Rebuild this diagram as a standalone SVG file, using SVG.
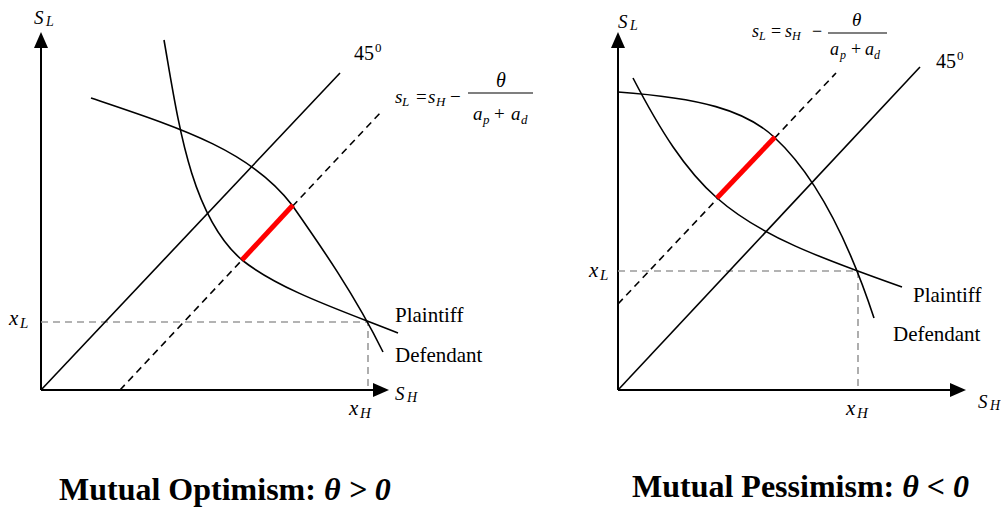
<svg xmlns="http://www.w3.org/2000/svg" width="1001" height="508" viewBox="0 0 1001 508">
<style>
.ax{stroke:#000;stroke-width:2;fill:none}
.ah{fill:#000;stroke:none}
.cv{stroke:#000;stroke-width:1.6;fill:none}
.dl{stroke:#000;stroke-width:1.6;fill:none;stroke-dasharray:7,5}
.gd{stroke:#9a9a9a;stroke-width:1.6;fill:none;stroke-dasharray:7,5}
.rd{stroke:#ff0000;stroke-width:5;fill:none}
text{font-family:"Liberation Serif","Times New Roman",serif;fill:#000}
.it{font-style:italic}
.lb{font-size:21px}
.ttl{font-size:32px;font-weight:bold}
</style>
<rect width="1001" height="508" fill="#fff"/>

<g id="left-panel">
  <g id="left-axes">
    <line class="ax" x1="41" y1="390" x2="41" y2="46"/>
    <polygon class="ah" points="41,32 34,48 48,48"/>
    <line class="ax" x1="41" y1="390" x2="375" y2="390"/>
    <polygon class="ah" points="389,390 373,383 373,397"/>
    <text class="it" x="34" y="24" font-size="19">S</text>
    <text class="it" x="46" y="26" font-size="14">L</text>
    <text class="it" x="395" y="400" font-size="19">S</text>
    <text class="it" x="407" y="402" font-size="14">H</text>
  </g>
  <g id="left-guides">
    <polyline class="gd" points="41,322 368,322 368,390"/>
    <text class="it" x="9" y="325" font-size="21">x</text>
    <text class="it" x="20" y="328" font-size="15">L</text>
    <text class="it" x="349" y="415" font-size="21">x</text>
    <text class="it" x="360" y="418" font-size="15">H</text>
  </g>
  <g id="left-45">
    <line class="cv" x1="41" y1="390" x2="340" y2="73"/>
    <text x="354" y="60" font-size="20">45</text>
    <text x="375" y="52" font-size="13">0</text>
  </g>
  <g id="left-settlement-line">
    <line class="dl" x1="120" y1="390" x2="381" y2="112"/>
    <g class="it">
      <text x="395" y="103" font-size="19">s</text>
      <text x="402" y="106" font-size="13">L</text>
      <text x="428" y="103" font-size="19">s</text>
      <text x="436" y="106" font-size="13">H</text>
      <text x="473" y="120" font-size="19">a</text>
      <text x="483" y="124" font-size="13">p</text>
      <text x="511" y="120" font-size="19">a</text>
      <text x="521" y="124" font-size="13">d</text>
      <text x="496" y="87" font-size="20">θ</text>
    </g>
    <text x="416" y="103" font-size="19">=</text>
    <text x="450" y="103" font-size="19">−</text>
    <text x="494" y="120" font-size="19">+</text>
    <line x1="468" y1="93" x2="533" y2="93" stroke="#000" stroke-width="1.2"/>
  </g>
  <g id="left-plaintiff">
    <path class="cv" d="M164,40 C178,120 190,215 242,260 C280,290 340,310 398,333"/>
    <text class="lb" x="395" y="322">Plaintiff</text>
  </g>
  <g id="left-defendant">
    <path class="cv" d="M91,98 C180,128 250,150 292,205 C320,245 355,295 383,352"/>
    <text class="lb" x="395" y="362">Defendant</text>
  </g>
  <g id="left-range">
    <line class="rd" x1="242" y1="260" x2="293" y2="205"/>
  </g>
  <g id="left-title">
    <text class="ttl" x="59" y="500">Mutual Optimism: <tspan font-style="italic">θ &gt; 0</tspan></text>
  </g>
</g>

<g id="right-panel">
  <g id="right-axes">
    <line class="ax" x1="618" y1="390" x2="618" y2="46"/>
    <polygon class="ah" points="618,32 611,48 625,48"/>
    <line class="ax" x1="618" y1="390" x2="952" y2="390"/>
    <polygon class="ah" points="966,390 950,383 950,397"/>
    <text class="it" x="618" y="28" font-size="19">S</text>
    <text class="it" x="630" y="30" font-size="14">L</text>
    <text class="it" x="978" y="408" font-size="19">S</text>
    <text class="it" x="990" y="410" font-size="14">H</text>
  </g>
  <g id="right-guides">
    <polyline class="gd" points="618,271 858,271 858,390"/>
    <text class="it" x="589" y="277" font-size="21">x</text>
    <text class="it" x="600" y="280" font-size="15">L</text>
    <text class="it" x="846" y="415" font-size="21">x</text>
    <text class="it" x="857" y="418" font-size="15">H</text>
  </g>
  <g id="right-45">
    <line class="cv" x1="618" y1="390" x2="920" y2="67"/>
    <text x="936" y="68" font-size="20">45</text>
    <text x="957" y="60" font-size="13">0</text>
  </g>
  <g id="right-settlement-line">
    <line class="dl" x1="618" y1="304" x2="836" y2="73"/>
    <g class="it">
      <text x="752" y="37" font-size="18">s</text>
      <text x="759" y="40" font-size="12">L</text>
      <text x="785" y="37" font-size="18">s</text>
      <text x="792" y="40" font-size="12">H</text>
      <text x="830" y="55" font-size="18">a</text>
      <text x="840" y="59" font-size="12">p</text>
      <text x="865" y="55" font-size="18">a</text>
      <text x="874" y="59" font-size="12">d</text>
      <text x="852" y="26" font-size="19">θ</text>
    </g>
    <text x="771" y="37" font-size="18">=</text>
    <text x="812" y="37" font-size="18">−</text>
    <text x="851" y="55" font-size="18">+</text>
    <line x1="828" y1="33" x2="887" y2="33" stroke="#000" stroke-width="1.2"/>
  </g>
  <g id="right-plaintiff">
    <path class="cv" d="M633,78 C660,130 685,170 717,198 C760,236 820,258 902,287"/>
    <text class="lb" x="913" y="302">Plaintiff</text>
  </g>
  <g id="right-defendant">
    <path class="cv" d="M618,92 C700,98 745,110 774,137 C810,170 845,230 874,318"/>
    <text class="lb" x="893" y="341">Defendant</text>
  </g>
  <g id="right-range">
    <line class="rd" x1="717" y1="198" x2="775" y2="137"/>
  </g>
  <g id="right-title">
    <text class="ttl" x="632" y="497">Mutual Pessimism: <tspan font-style="italic">θ &lt; 0</tspan></text>
  </g>
</g>
</svg>
